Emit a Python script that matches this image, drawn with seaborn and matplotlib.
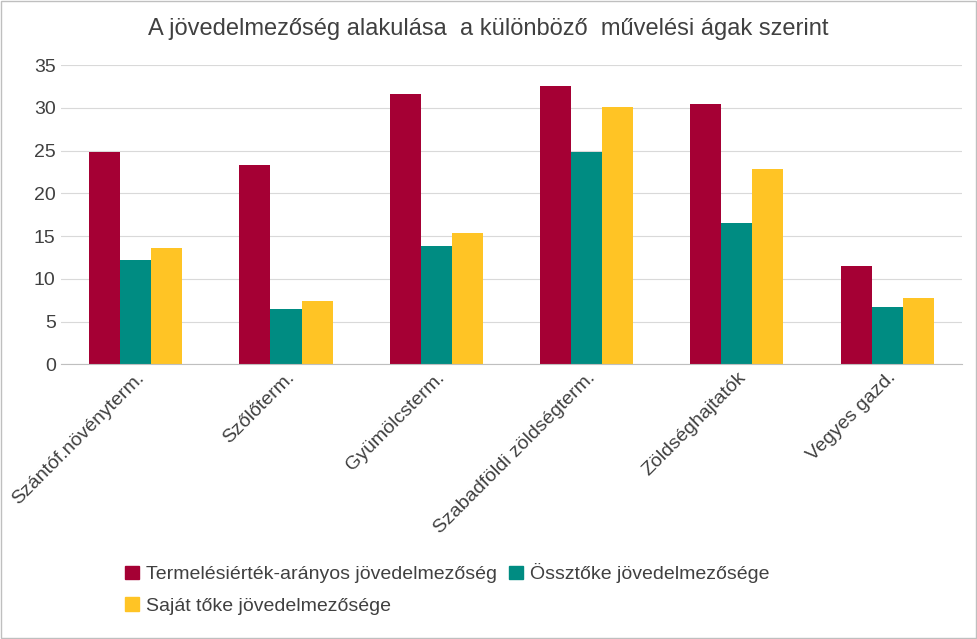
import matplotlib
matplotlib.use("Agg")
import matplotlib.pyplot as plt
import seaborn as sns
import pandas as pd
from matplotlib.patches import Patch

plt.rcParams["font.family"] = ["Liberation Sans Narrow", "Liberation Sans", "DejaVu Sans"]

categories = ["Szántóf.növényterm.", "Szőlőterm.", "Gyümölcsterm.",
              "Szabadföldi zöldségterm.", "Zöldséghajtatók", "Vegyes gazd."]
series_names = ["Termelésiérték-arányos jövedelmezőség", "Össztőke jövedelmezősége",
                "Saját tőke jövedelmezősége"]
termelesi = [24.8, 23.3, 31.6, 32.6, 30.4, 11.5]
ossztoke = [12.2, 6.5, 13.8, 24.8, 16.5, 6.7]
sajat = [13.6, 7.4, 15.4, 30.1, 22.9, 7.7]
colors = ["#A50034", "#008C82", "#FFC425"]

rows = []
for vals, name in zip([termelesi, ossztoke, sajat], series_names):
    for c, v in zip(categories, vals):
        rows.append({"cat": c, "series": name, "value": v})
df = pd.DataFrame(rows)

fig = plt.figure(figsize=(9.77, 6.39), dpi=100)
ax = fig.add_axes([0.062, 0.43, 0.923, 0.468])
sns.barplot(data=df, x="cat", y="value", hue="series", palette=colors,
            width=0.62, saturation=1, ax=ax, legend=False)
ax.set_ylim(0, 35)
ax.set_yticks(range(0, 36, 5))
ax.yaxis.grid(True, color="#D9D9D9", lw=0.8)
ax.set_axisbelow(True)
for s in ["top", "right", "left"]:
    ax.spines[s].set_visible(False)
ax.spines["bottom"].set_color("#BFBFBF")
ax.tick_params(axis="y", length=0, labelsize=14, colors="#404040")
ax.tick_params(axis="x", length=0, labelsize=14, colors="#404040")
ax.set_xticks(range(len(categories)))
ax.set_xticklabels(categories, rotation=45, ha="right", rotation_mode="anchor")
ax.set_xlabel("")
ax.set_ylabel("")
fig.text(0.5, 0.955, "A jövedelmezőség alakulása  a különböző  művelési ágak szerint",
         ha="center", va="center", fontsize=17, color="#404040")
handles = [Patch(color=c) for c in colors]
fig.legend(handles[:2], series_names[:2], loc="lower left", bbox_to_anchor=(0.11, 0.06),
           ncol=2, frameon=False, fontsize=14, handlelength=0.7, handleheight=0.7,
           columnspacing=0.6, handletextpad=0.4, labelcolor="#404040")
fig.legend(handles[2:], series_names[2:], loc="lower left", bbox_to_anchor=(0.11, 0.01),
           frameon=False, fontsize=14, handlelength=0.7, handleheight=0.7,
           handletextpad=0.4, labelcolor="#404040")
fig.patches.append(plt.Rectangle((0.001, 0.001), 0.998, 0.998, transform=fig.transFigure,
                                 fill=False, edgecolor="#BFBFBF", lw=1))
fig.savefig("out.png", dpi=100)
